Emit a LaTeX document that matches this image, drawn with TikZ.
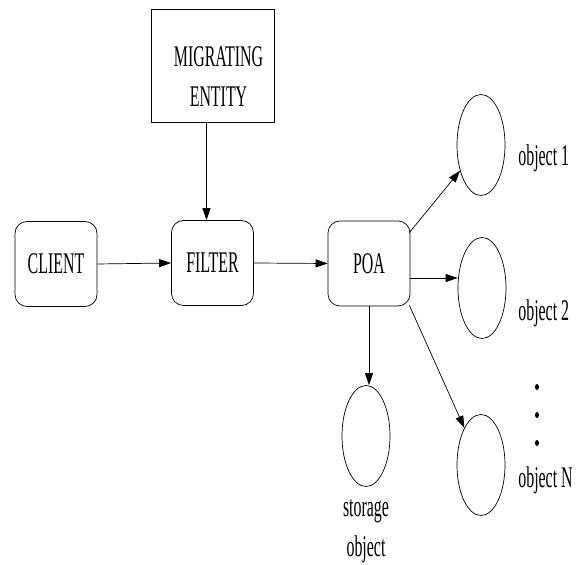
\documentclass[tikz,border=0pt]{standalone}
\usepackage{fontspec}
\setmainfont{Liberation Serif}[FakeStretch=0.53]
\usetikzlibrary{arrows.meta, positioning, shapes.geometric, calc}
\tikzset{
  every picture/.style={font=\fontsize{30bp}{40bp}\selectfont, line width=0.7bp},
  box/.style={draw, rounded corners=12bp, align=center, minimum width=82bp, minimum height=85bp, inner sep=0pt},
  entity/.style={draw, align=center, minimum width=123bp, minimum height=113bp, inner sep=0pt},
  obj/.style={draw, ellipse, minimum width=48bp, minimum height=101bp, inner sep=0pt},
  arrow/.style={-{Triangle[length=12bp, width=8bp]}},
  tag/.style={anchor=west, inner sep=0pt},
  dot/.style={fill, ellipse, minimum width=4bp, minimum height=6bp, inner sep=0pt},
}
% text in the entity box sits a little low and to the right
\newcommand{\entityline}[1]{\hspace*{12bp}#1}
\begin{document}
\begin{tikzpicture}[x=1bp, y=1bp]
  \useasboundingbox (0,0) rectangle (579,565);
  % request path
  \node[box] (client) at (56,301) {CLIENT};
  \node[box] (filter) at (212.5,302) {FILTER};
  \node[box] (poa) at (369,301.5) {POA};
  \node[entity] (mig) at (212.5,499.5)
    {\rule{0pt}{42bp}\entityline{MIGRATING}\\\entityline{ENTITY}};
  % objects behind the POA
  \node[obj] (obj1) at (481,420) {};
  \node[obj] (obj2) at (482,277) {};
  \node[obj] (objn) at (481,100) {};
  \node[obj] (store) at (366,129) {};
  \node[tag] (lab1) at (518,407) {object 1};
  \node[tag] (lab2) at (518,252) {object 2};
  \node[tag] (labn) at (518,85) {object N};
  \node[align=center, inner sep=0pt] (storelab) at (366,34) {storage\\object};
  \foreach \y [count=\i] in {178,150,122}
    \node[dot] (dot\i) at (537,\y) {};
  % arrows
  \draw[arrow] (client.east) -- (filter.west);
  \draw[arrow] ([xshift=-6bp]mig.south) -- ([xshift=-6bp]filter.north);
  \draw[arrow] (filter.east) -- (poa.west);
  \draw[arrow] ($(poa.north east)+(-1,-12)$) -- (obj1);
  \draw[arrow] ([yshift=-14.5bp]poa.east) -- ([yshift=-14.5bp]poa.east -| obj2.west);
  \draw[arrow] ($(poa.south east)+(-1,1)$) -- (objn);
  \draw[arrow] (poa.south) -- (poa.south |- store.north);
\end{tikzpicture}
\end{document}
